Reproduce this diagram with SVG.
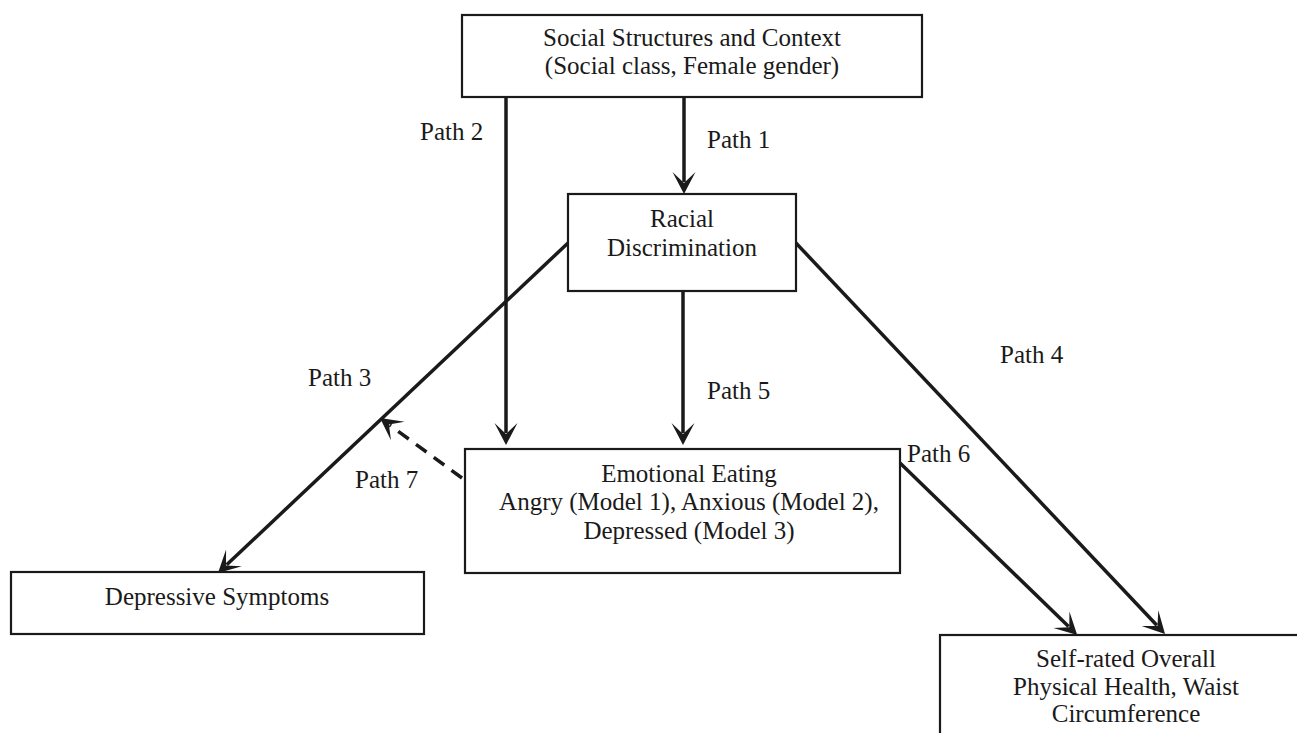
<svg xmlns="http://www.w3.org/2000/svg" width="1297" height="733" viewBox="0 0 1297 733">
  <style>
    .box { fill: #fff; stroke: #1a1a1a; stroke-width: 2.2; }
    .txt { font-family: "Liberation Serif", "Times New Roman", serif; font-size: 25px; fill: #1a1a1a; }
    .mid { text-anchor: middle; }
    .edge { fill: none; stroke: #1a1a1a; stroke-width: 3.5; }
    .dash { stroke-dasharray: 13 9; }
  </style>
  <defs>
    <marker id="head" viewBox="-12 -14 26 28" refX="0" refY="0" markerWidth="26" markerHeight="28" markerUnits="userSpaceOnUse" orient="auto" overflow="visible">
      <path d="M12,0 L-10,-11.5 L1,0 L-10,11.5 Z" fill="#1a1a1a"/>
    </marker>
  </defs>

  <rect width="1297" height="733" fill="#fff"/>

  <g id="connectors">
    <!-- Path 1 -->
    <line class="edge" x1="684" y1="97" x2="684" y2="182" marker-end="url(#head)"/>
    <!-- Path 2 -->
    <line class="edge" x1="506" y1="97" x2="506" y2="433" marker-end="url(#head)"/>
    <!-- Path 5 -->
    <line class="edge" x1="683" y1="291" x2="683" y2="433" marker-end="url(#head)"/>
    <!-- Path 3 -->
    <line class="edge" x1="568" y1="243" x2="226.7" y2="564.8" marker-end="url(#head)"/>
    <!-- Path 4 -->
    <line class="edge" x1="795" y1="242" x2="1156.8" y2="625.3" marker-end="url(#head)"/>
    <!-- Path 6 -->
    <line class="edge" x1="900" y1="463" x2="1068.6" y2="626.6" marker-end="url(#head)"/>
    <!-- Path 7 (dashed) -->
    <line class="edge dash" x1="462" y1="478" x2="389.7" y2="425.1" marker-end="url(#head)"/>
  </g>

  <g id="labels">
    <text class="txt" x="707" y="148">Path 1</text>
    <text class="txt" x="420" y="140">Path 2</text>
    <text class="txt" x="308" y="386">Path 3</text>
    <text class="txt" x="1000" y="363">Path 4</text>
    <text class="txt" x="707" y="399">Path 5</text>
    <text class="txt" x="907" y="462">Path 6</text>
    <text class="txt" x="355" y="488">Path 7</text>
  </g>

  <g id="social">
    <rect class="box" x="462" y="15" width="460" height="82"/>
    <text class="txt mid" x="692" y="46">Social Structures and Context</text>
    <text class="txt mid" x="692" y="74">(Social class, Female gender)</text>
  </g>

  <g id="racial">
    <rect class="box" x="568" y="194" width="228" height="97"/>
    <text class="txt mid" x="682" y="227">Racial</text>
    <text class="txt mid" x="682" y="256">Discrimination</text>
  </g>

  <g id="emotional">
    <rect class="box" x="465" y="449" width="435" height="124"/>
    <text class="txt mid" x="689" y="482">Emotional Eating</text>
    <text class="txt mid" x="689" y="510">Angry (Model 1), Anxious (Model 2),</text>
    <text class="txt mid" x="689" y="539">Depressed (Model 3)</text>
  </g>

  <g id="depressive">
    <rect class="box" x="11" y="572" width="413" height="62"/>
    <text class="txt mid" x="217" y="605">Depressive Symptoms</text>
  </g>

  <g id="selfrated">
    <rect class="box" x="940" y="635" width="380" height="120"/>
    <text class="txt mid" x="1126" y="667">Self-rated Overall</text>
    <text class="txt mid" x="1126" y="695">Physical Health, Waist</text>
    <text class="txt mid" x="1126" y="722">Circumference</text>
  </g>
</svg>
